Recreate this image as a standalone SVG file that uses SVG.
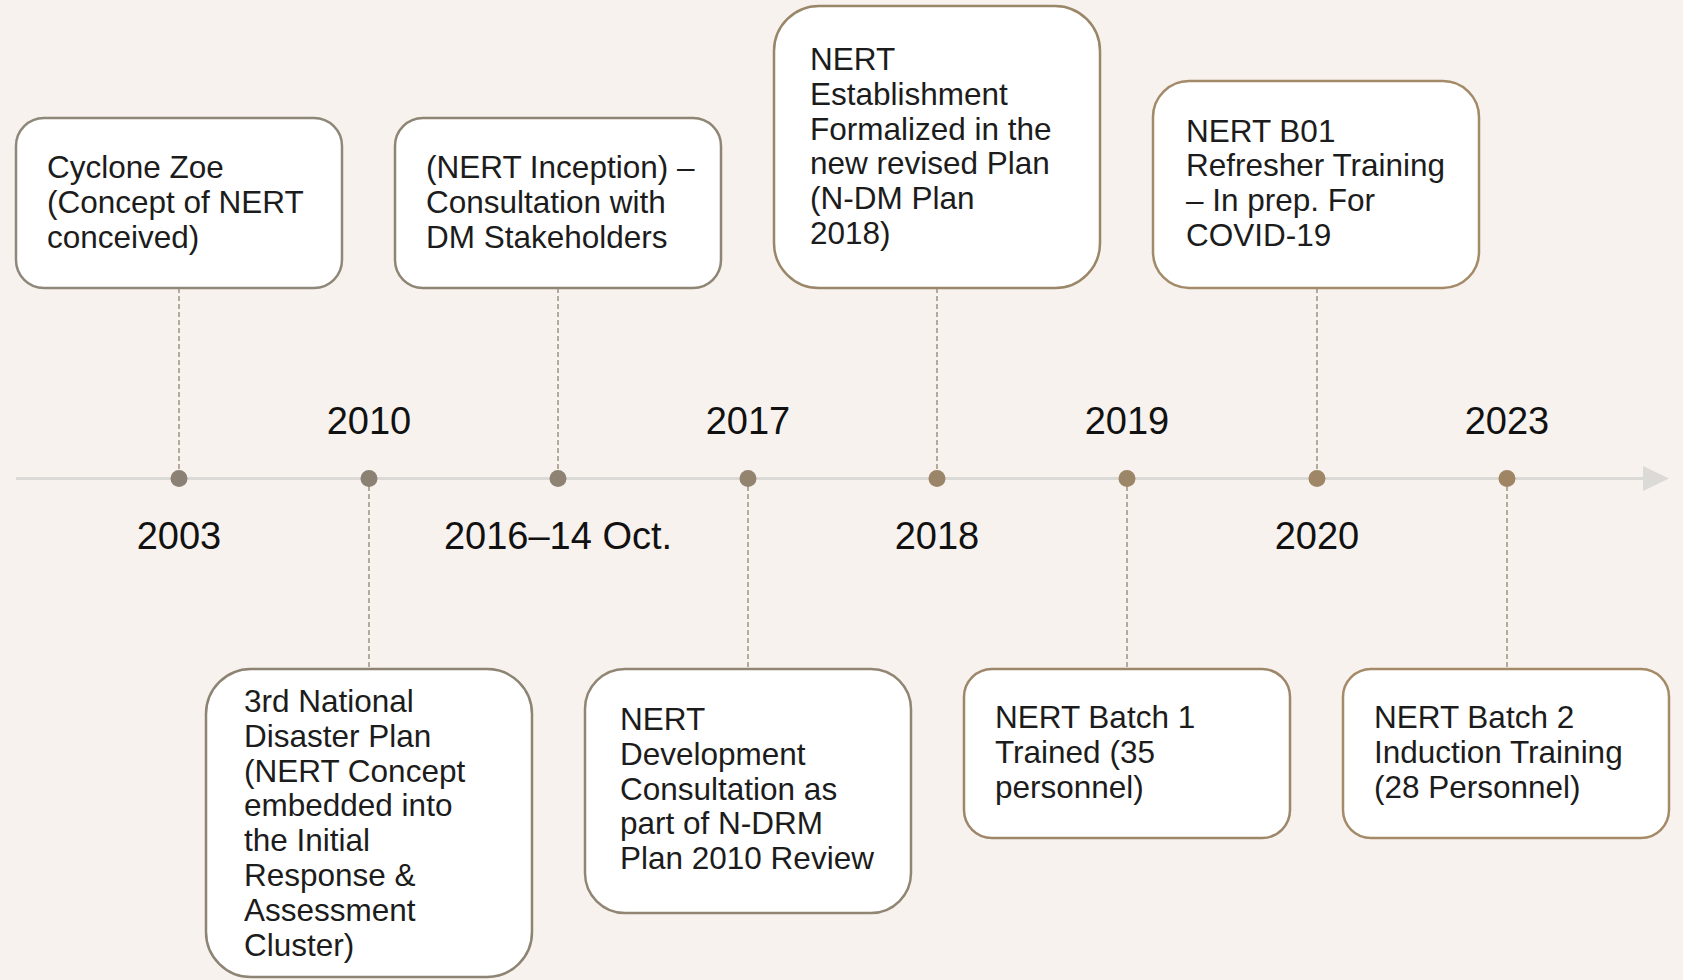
<svg xmlns="http://www.w3.org/2000/svg" width="1683" height="980" viewBox="0 0 1683 980">
<style>
.bg{fill:#f7f2ee}
.box{fill:#ffffff;stroke-width:2.5}
.t{font-family:"Liberation Sans",Arial,sans-serif;font-size:31.5px;fill:#1c1c1c}
.yr{font-family:"Liberation Sans",Arial,sans-serif;font-size:38px;fill:#111111;text-anchor:middle}
.dash{stroke:#978c7c;stroke-width:1.4;stroke-dasharray:5 3;fill:none}
.axis{stroke:#dcdad6;stroke-width:3}
</style>
<rect class="bg" x="0" y="0" width="1683" height="980"/>
<g id="timeline">
<line class="axis" x1="16" y1="478.5" x2="1645" y2="478.5"/>
<polygon points="1643,466 1669,478.5 1643,491" fill="#dcdad6"/>
</g>
<g id="connectors">
<line class="dash" x1="179" y1="288" x2="179" y2="478"/>
<line class="dash" x1="369" y1="478" x2="369" y2="669"/>
<line class="dash" x1="558" y1="288" x2="558" y2="478"/>
<line class="dash" x1="748" y1="478" x2="748" y2="669"/>
<line class="dash" x1="937" y1="288" x2="937" y2="478"/>
<line class="dash" x1="1127" y1="478" x2="1127" y2="669"/>
<line class="dash" x1="1317" y1="288" x2="1317" y2="478"/>
<line class="dash" x1="1507" y1="478" x2="1507" y2="669"/>
<circle cx="179" cy="478.5" r="8.5" fill="#8b8275"/>
<circle cx="369" cy="478.5" r="8.5" fill="#8c8273"/>
<circle cx="558" cy="478.5" r="8.5" fill="#8e8272"/>
<circle cx="748" cy="478.5" r="8.5" fill="#938470"/>
<circle cx="937" cy="478.5" r="8.5" fill="#9a8569"/>
<circle cx="1127" cy="478.5" r="8.5" fill="#9c8668"/>
<circle cx="1317" cy="478.5" r="8.5" fill="#9f8666"/>
<circle cx="1507" cy="478.5" r="8.5" fill="#a08565"/>
</g>
<g id="years">
<text class="yr" x="179" y="548.5">2003</text>
<text class="yr" x="369" y="433.5">2010</text>
<text class="yr" x="558" y="548.5">2016–14 Oct.</text>
<text class="yr" x="748" y="433.5">2017</text>
<text class="yr" x="937" y="548.5">2018</text>
<text class="yr" x="1127" y="433.5">2019</text>
<text class="yr" x="1317" y="548.5">2020</text>
<text class="yr" x="1507" y="433.5">2023</text>
</g>
<g id="n2003">
<rect class="box" x="16" y="118" width="326" height="170" rx="28" stroke="#8e877a"/>
<text class="t"><tspan x="47" y="178">Cyclone Zoe</tspan><tspan x="47" y="213">(Concept of NERT</tspan><tspan x="47" y="248">conceived)</tspan></text>
</g>
<g id="n2010">
<rect class="box" x="206" y="669" width="326" height="308" rx="45" stroke="#8d8474"/>
<text class="t"><tspan x="244" y="711.5">3rd National</tspan><tspan x="244" y="746.5">Disaster Plan</tspan><tspan x="244" y="781.5">(NERT Concept</tspan><tspan x="244" y="816">embedded into</tspan><tspan x="244" y="851">the Initial</tspan><tspan x="244" y="886">Response &amp;</tspan><tspan x="244" y="921">Assessment</tspan><tspan x="244" y="955.5">Cluster)</tspan></text>
</g>
<g id="n2016">
<rect class="box" x="395" y="118" width="326" height="170" rx="28" stroke="#8f8574"/>
<text class="t"><tspan x="426" y="178">(NERT Inception) –</tspan><tspan x="426" y="213">Consultation with</tspan><tspan x="426" y="248">DM Stakeholders</tspan></text>
</g>
<g id="n2017">
<rect class="box" x="585" y="669" width="326" height="244" rx="40" stroke="#918674"/>
<text class="t"><tspan x="620" y="730">NERT</tspan><tspan x="620" y="764.5">Development</tspan><tspan x="620" y="799.5">Consultation as</tspan><tspan x="620" y="834">part of N-DRM</tspan><tspan x="620" y="869">Plan 2010 Review</tspan></text>
</g>
<g id="n2018">
<rect class="box" x="774" y="6" width="326" height="282" rx="45" stroke="#9a8769"/>
<text class="t"><tspan x="810" y="70">NERT</tspan><tspan x="810" y="104.5">Establishment</tspan><tspan x="810" y="139.5">Formalized in the</tspan><tspan x="810" y="174">new revised Plan</tspan><tspan x="810" y="209">(N-DM Plan</tspan><tspan x="810" y="243.5">2018)</tspan></text>
</g>
<g id="n2019">
<rect class="box" x="964" y="669" width="326" height="169" rx="28" stroke="#9d876a"/>
<text class="t"><tspan x="995" y="728">NERT Batch 1</tspan><tspan x="995" y="763">Trained (35</tspan><tspan x="995" y="797.5">personnel)</tspan></text>
</g>
<g id="n2020">
<rect class="box" x="1153" y="81" width="326" height="207" rx="36" stroke="#a38a69"/>
<text class="t"><tspan x="1186" y="141.5">NERT B01</tspan><tspan x="1186" y="176">Refresher Training</tspan><tspan x="1186" y="211">– In prep. For</tspan><tspan x="1186" y="246">COVID-19</tspan></text>
</g>
<g id="n2023">
<rect class="box" x="1343" y="669" width="326" height="169" rx="28" stroke="#a58a68"/>
<text class="t"><tspan x="1374" y="728">NERT Batch 2</tspan><tspan x="1374" y="763">Induction Training</tspan><tspan x="1374" y="797.5">(28 Personnel)</tspan></text>
</g>
</svg>
